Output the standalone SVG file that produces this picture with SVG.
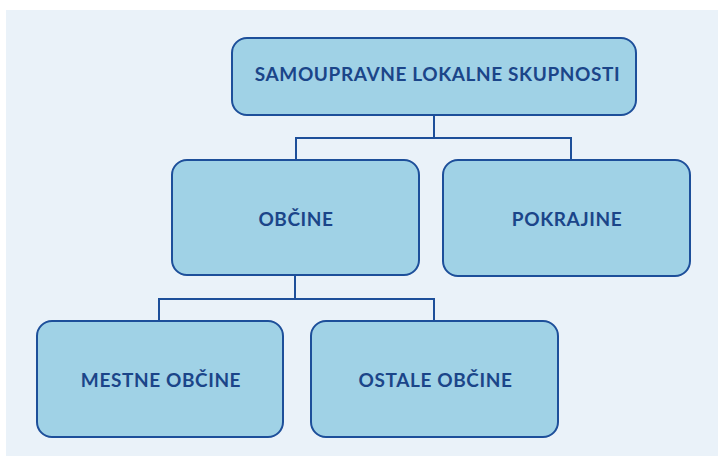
<svg xmlns="http://www.w3.org/2000/svg" width="718" height="456" viewBox="0 0 718 456">
<style>
.box{fill:#a0d2e6;stroke:#1d4f9a;stroke-width:2}
.lbl{font-family:Lato,"Liberation Sans",sans-serif;font-weight:bold;font-size:19px;letter-spacing:0.6px;fill:#1b4589;text-anchor:middle}
.conn{fill:none;stroke:#1d4f9a;stroke-width:2}
</style>
<rect x="0" y="0" width="718" height="456" fill="#ffffff"/>
<rect x="6" y="10" width="712" height="446" fill="#eaf2f9"/>
<g id="connectors">
<path class="conn" d="M434 115V138M296 160V138H571V160"/>
<path class="conn" d="M295 275V299M159 321V299H434V321"/>
</g>
<g id="n-samoupravne"><rect class="box" x="232" y="38" width="404" height="77" rx="15"/><text class="lbl" x="437.5" y="81">SAMOUPRAVNE LOKALNE SKUPNOSTI</text></g>
<g id="n-obcine"><rect class="box" x="172" y="160" width="247" height="115" rx="15"/><text class="lbl" x="296" y="226">OBČINE</text></g>
<g id="n-pokrajine"><rect class="box" x="443" y="160" width="247" height="116" rx="15"/><text class="lbl" x="567" y="226">POKRAJINE</text></g>
<g id="n-mestne"><rect class="box" x="37" y="321" width="246" height="116" rx="15"/><text class="lbl" x="161" y="387">MESTNE OBČINE</text></g>
<g id="n-ostale"><rect class="box" x="311" y="321" width="247" height="116" rx="15"/><text class="lbl" x="435.5" y="387">OSTALE OBČINE</text></g>
</svg>
